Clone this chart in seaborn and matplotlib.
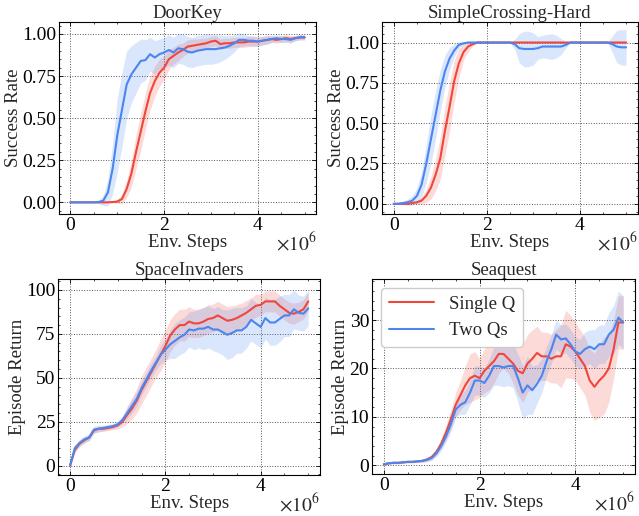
import numpy as np
import pandas as pd
import seaborn as sns
import matplotlib
matplotlib.use("Agg")
import matplotlib.pyplot as plt
from matplotlib.ticker import AutoMinorLocator

# env steps (x 1e6)
steps = [0.0, 0.1, 0.2, 0.3, 0.4, 0.5, 0.6, 0.7, 0.8, 0.9,
         1.0, 1.1, 1.2, 1.3, 1.4, 1.5, 1.6, 1.7, 1.8, 1.9,
         2.0, 2.1, 2.2, 2.3, 2.4, 2.5, 2.6, 2.7, 2.8, 2.9,
         3.0, 3.1, 3.2, 3.3, 3.4, 3.5, 3.6, 3.7, 3.8, 3.9,
         4.0, 4.1, 4.2, 4.3, 4.4, 4.5, 4.6, 4.7, 4.8, 4.9, 5.0]

# ---- DoorKey ----
doorkey_single = [0, 0, 0, 0, 0, 0, 0, 0, 0, 0.002,
                  0.005, 0.02, 0.08, 0.17, 0.30, 0.42, 0.54, 0.65, 0.72, 0.77,
                  0.80, 0.85, 0.87, 0.89, 0.905, 0.925, 0.93, 0.935, 0.94, 0.945,
                  0.955, 0.96, 0.94, 0.945, 0.945, 0.95, 0.95, 0.95, 0.955, 0.955,
                  0.955, 0.96, 0.965, 0.97, 0.965, 0.97, 0.975, 0.97, 0.975, 0.98, 0.98]
doorkey_single_sd = [0, 0, 0, 0, 0, 0, 0, 0, 0, 0.005,
                     0.01, 0.03, 0.05, 0.08, 0.10, 0.11, 0.11, 0.10, 0.09, 0.08,
                     0.07, 0.06, 0.05, 0.05, 0.04, 0.04, 0.04, 0.035, 0.035, 0.03,
                     0.03, 0.03, 0.03, 0.03, 0.03, 0.03, 0.03, 0.03, 0.03, 0.03,
                     0.025, 0.025, 0.025, 0.02, 0.02, 0.02, 0.02, 0.02, 0.015, 0.015, 0.015]
doorkey_two = [0, 0, 0, 0, 0, 0, 0.002, 0.01, 0.06, 0.20,
               0.40, 0.55, 0.70, 0.76, 0.80, 0.84, 0.845, 0.88, 0.86, 0.88,
               0.89, 0.905, 0.89, 0.915, 0.91, 0.895, 0.89, 0.90, 0.905, 0.91,
               0.91, 0.91, 0.915, 0.92, 0.93, 0.945, 0.965, 0.965, 0.96, 0.96,
               0.955, 0.96, 0.965, 0.97, 0.975, 0.97, 0.97, 0.965, 0.975, 0.98, 0.98]
doorkey_two_sd = [0, 0, 0, 0, 0, 0, 0.01, 0.03, 0.08, 0.15,
                  0.22, 0.22, 0.20, 0.17, 0.15, 0.13, 0.12, 0.10, 0.10, 0.09,
                  0.09, 0.09, 0.09, 0.09, 0.09, 0.09, 0.09, 0.09, 0.09, 0.09,
                  0.09, 0.085, 0.08, 0.07, 0.06, 0.05, 0.04, 0.035, 0.03, 0.03,
                  0.03, 0.025, 0.025, 0.02, 0.02, 0.02, 0.02, 0.02, 0.015, 0.015, 0.015]

# ---- SimpleCrossing-Hard ----
cross_single = [0, 0, 0, 0, 0.005, 0.01, 0.02, 0.05, 0.10, 0.18,
                0.28, 0.45, 0.60, 0.76, 0.87, 0.94, 0.975, 0.99, 1.0, 1.0,
                1.0, 1.0, 1.0, 1.0, 1.0, 1.0, 1.0, 1.0, 1.0, 1.0,
                1.0, 1.0, 1.0, 1.0, 1.0, 1.0, 1.0, 1.0, 1.0, 1.0,
                1.0, 1.0, 1.0, 1.0, 1.0, 1.0, 1.0, 1.0, 1.0, 1.0, 1.0]
cross_single_sd = [0, 0, 0, 0, 0.005, 0.01, 0.02, 0.04, 0.07, 0.10,
                   0.13, 0.15, 0.15, 0.13, 0.09, 0.05, 0.03, 0.01, 0.005, 0,
                   0, 0, 0, 0, 0, 0, 0, 0, 0, 0,
                   0, 0, 0, 0, 0, 0, 0, 0, 0, 0,
                   0, 0, 0, 0, 0, 0, 0, 0, 0, 0, 0]
cross_two = [0, 0, 0.005, 0.01, 0.02, 0.05, 0.12, 0.25, 0.40, 0.55,
             0.70, 0.82, 0.90, 0.95, 0.985, 0.995, 1.0, 1.0, 1.0, 1.0,
             1.0, 1.0, 1.0, 1.0, 1.0, 1.0, 0.99, 0.965, 0.96, 0.96,
             0.96, 0.965, 0.975, 0.975, 0.975, 0.975, 0.975, 0.985, 1.0, 1.0,
             1.0, 1.0, 1.0, 1.0, 1.0, 1.0, 1.0, 0.99, 0.975, 0.97, 0.97]
cross_two_sd = [0, 0.005, 0.01, 0.02, 0.03, 0.05, 0.08, 0.12, 0.15, 0.15,
                0.13, 0.10, 0.07, 0.04, 0.02, 0.01, 0, 0, 0, 0,
                0, 0, 0, 0, 0, 0, 0.03, 0.09, 0.11, 0.11,
                0.10, 0.07, 0.07, 0.075, 0.08, 0.07, 0.05, 0.02, 0, 0,
                0, 0, 0, 0, 0, 0, 0, 0.05, 0.10, 0.11, 0.11]

# ---- SpaceInvaders ----
space_single = [0, 9, 12.5, 14.5, 16, 20, 21, 21, 21.5, 22,
                23, 25, 29, 32.5, 37, 43, 48, 53, 58, 63,
                68, 74, 77.5, 80, 80, 82, 81, 81, 82, 83.5,
                84, 85.5, 84, 82.5, 83, 84, 85.5, 87, 89, 91,
                91.5, 93.5, 93.5, 93.5, 91, 89, 87, 86.5, 87.5, 89, 93.5]
space_single_sd = [0.5, 1.5, 1.5, 1.5, 1.5, 1.5, 1.5, 1.5, 1.5, 1.5,
                   2, 3, 5, 6, 7, 8, 8, 8, 8, 9,
                   9, 9, 9, 9, 9, 8.5, 8, 8, 8, 8,
                   8, 8, 8, 8, 8, 7.5, 7, 7, 6.5, 6.5,
                   6, 6, 6, 6, 6, 6, 6, 6, 5.5, 5.5, 5.5]
space_two = [0, 10, 13, 15, 16, 20.5, 21, 21.5, 22, 22.5,
             23.5, 26, 30, 34, 38, 44, 49, 54, 58.5, 63,
             66, 69, 71, 73, 74.5, 77.5, 77, 78, 78, 79,
             77.5, 77.5, 76, 74.5, 75.5, 77, 77, 79, 83, 81,
             79, 84, 81.5, 81.5, 83.5, 85.5, 85.5, 89, 87, 86.5, 89.5]
space_two_sd = [0.5, 2, 2, 2, 2, 2, 2, 1.5, 1.5, 1.5,
                1.5, 2, 3, 4, 4, 4, 4, 4, 4, 5,
                6, 8, 10, 10, 10, 10, 11, 11, 12, 12,
                12, 13, 13, 14, 14, 13, 13, 12, 12, 12,
                12, 12, 13, 13, 13, 12, 12, 11, 10, 10, 10]

# ---- Seaquest ----
sea_single = [0.2, 0.4, 0.5, 0.5, 0.6, 0.7, 0.7, 0.8, 0.9, 1.2,
              1.7, 2.8, 4.5, 6.8, 9.5, 12.5, 14.5, 16.5, 18, 18.5,
              18, 19.5, 20.5, 21.5, 23, 23, 22, 21, 19.5, 19,
              21, 22, 23.2, 22.5, 22.5, 22, 22.5, 22.5, 25, 24.5,
              23.5, 22, 20.5, 17.5, 16.2, 17.5, 18.5, 20, 24, 29.5, 29.5]
sea_single_sd = [0.2, 0.2, 0.2, 0.2, 0.2, 0.2, 0.2, 0.2, 0.3, 0.4,
                 0.5, 0.7, 1, 1.5, 2, 2.5, 3, 4, 5, 5,
                 4, 4.5, 5, 4.5, 4, 3, 3, 4, 5, 6,
                 6, 6, 5.5, 5, 5, 5, 5.5, 6.5, 7, 6.5,
                 6, 6, 6, 6.5, 7, 7.5, 8, 7, 6, 5.5, 5.5]
sea_two = [0.2, 0.4, 0.5, 0.5, 0.6, 0.7, 0.7, 0.8, 0.9, 1.1,
           1.5, 2.5, 4.0, 6.0, 8.5, 11.5, 12.5, 13, 15, 17.5,
           17.5, 17, 18.5, 20.5, 20.5, 20.2, 20.5, 20.5, 18, 15,
           16.5, 15.5, 16.8, 18.5, 21.5, 24, 27, 26, 26.2, 25,
           23.5, 23, 24, 24.5, 24, 25, 25, 27, 28, 30.5, 29.5]
sea_two_sd = [0.2, 0.2, 0.2, 0.2, 0.2, 0.2, 0.2, 0.2, 0.3, 0.4,
              0.5, 0.7, 1, 1.2, 1.5, 1.5, 2, 2.5, 2.5, 3,
              3, 3, 3.5, 4, 4, 4, 4, 4.5, 5, 5.5,
              6, 5, 4, 3.5, 3, 3, 3, 3, 3, 3,
              3, 3, 3.5, 3.5, 4, 4, 4, 4.5, 5, 5.5, 5.5]

labels = ["Single Q", "Two Qs"]
colors = ["#f0473c", "#4a86ef"]

panels = [
    ("DoorKey", "Success Rate", [doorkey_single, doorkey_two], [doorkey_single_sd, doorkey_two_sd],
     (-0.07, 1.07), [0, 0.25, 0.5, 0.75, 1.0], "{:.2f}"),
    ("SimpleCrossing-Hard", "Success Rate", [cross_single, cross_two], [cross_single_sd, cross_two_sd],
     (-0.064, 1.126), [0, 0.25, 0.5, 0.75, 1.0], "{:.2f}"),
    ("SpaceInvaders", "Episode Return", [space_single, space_two], [space_single_sd, space_two_sd],
     (-5.3, 106.3), [0, 25, 50, 75, 100], "{:.0f}"),
    ("Seaquest", "Episode Return", [sea_single, sea_two], [sea_single_sd, sea_two_sd],
     (-1.8, 38.5), [0, 10, 20, 30], "{:.0f}"),
]

boxes = [
    [0.092, 0.585, 0.403, 0.372],
    [0.598, 0.585, 0.400, 0.372],
    [0.091, 0.0795, 0.410, 0.380],
    [0.582, 0.0815, 0.412, 0.378],
]

sns.set_theme(style="ticks")
plt.rcParams['font.family'] = ['Liberation Serif', 'DejaVu Serif']
plt.rcParams['mathtext.fontset'] = 'stix'
plt.rcParams['font.size'] = 13.5
plt.rcParams['axes.edgecolor'] = 'black'
plt.rcParams['axes.linewidth'] = 0.8
plt.rcParams['xtick.direction'] = 'in'
plt.rcParams['ytick.direction'] = 'in'
plt.rcParams['xtick.top'] = True
plt.rcParams['ytick.right'] = True
plt.rcParams['xtick.color'] = 'black'
plt.rcParams['ytick.color'] = 'black'

fig = plt.figure(figsize=(6.39, 5.16), dpi=100)

x = np.array(steps) * 1e6
for (title, ylabel, means, sds, ylim, yticks, fmt), box in zip(panels, boxes):
    ax = fig.add_axes(box)
    for mean, sd, lab, col in zip(means, sds, labels, colors):
        m = np.array(mean)
        s = np.array(sd)
        df = pd.DataFrame({"step": x, "value": m})
        sns.lineplot(data=df, x="step", y="value", ax=ax, color=col, lw=1.5, label=lab)
        ax.fill_between(x, m - s, m + s, color=col, alpha=0.2, lw=0)
    ax.set_title(title, fontsize=13.5, pad=2)
    ax.set_xlabel("Env. Steps", fontsize=13.5, labelpad=0)
    ax.set_ylabel(ylabel, fontsize=13.5, labelpad=0)
    ax.set_ylim(*ylim)
    ax.set_yticks(yticks)
    ax.set_yticklabels([fmt.format(v) for v in yticks])
    ax.set_xticks([0, 2e6, 4e6])
    ax.set_xticklabels(["0", "2", "4"])
    # scale factor written below the right end of the x axis
    ax.annotate(r"$\times10^{6}$", xy=(1.0, 0.0), xycoords="axes fraction",
                xytext=(0, -36), textcoords="offset pixels",
                ha="right", va="baseline", fontsize=14)
    ax.xaxis.set_minor_locator(AutoMinorLocator())
    ax.yaxis.set_minor_locator(AutoMinorLocator())
    ax.tick_params(which="major", length=3, width=0.6, labelsize=14, pad=2)
    ax.tick_params(which="minor", length=1.5, width=0.5)
    ax.grid(True, which="major", linestyle=":", color="#555555", linewidth=0.7)
    if title == "Seaquest":
        ax.legend(loc="upper left", fontsize=13.5, handlelength=2.4, frameon=True,
                  fancybox=True, edgecolor="#cccccc", framealpha=1.0)
    else:
        ax.get_legend().remove()

fig.savefig("out.png", dpi=100)
